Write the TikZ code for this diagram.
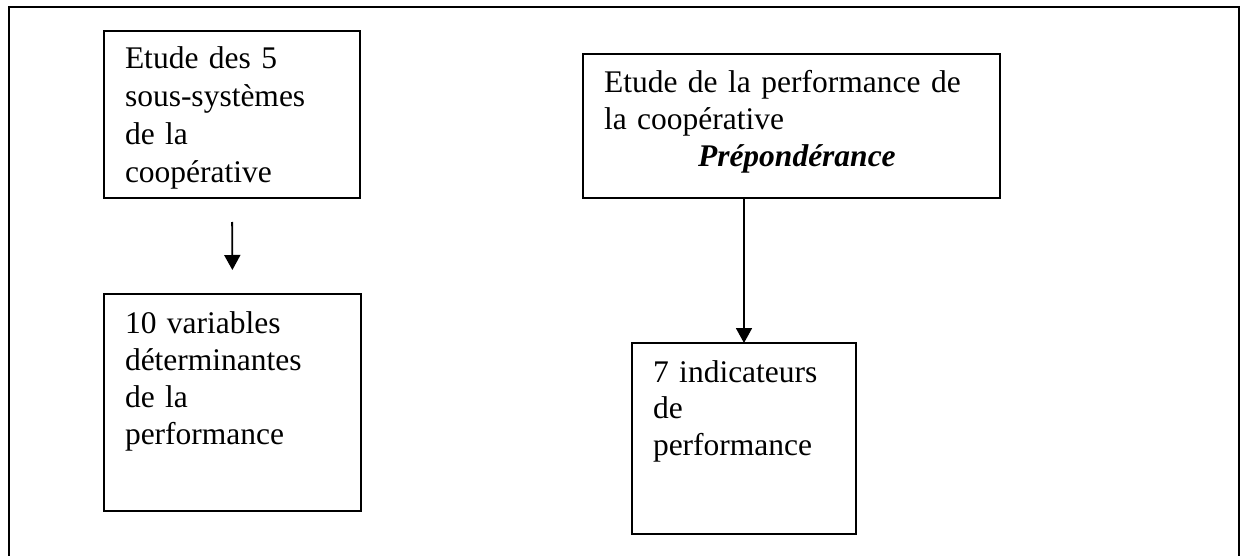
\documentclass[tikz,border=0pt]{standalone}
\usepackage{fontspec}
\setmainfont{Liberation Serif}
\usetikzlibrary{arrows.meta}
\tikzset{
  box/.style={draw, line width=0.8pt, rectangle, anchor=north west, inner sep=0pt, outer sep=0pt},
  txt/.style={anchor=base west, inner sep=0pt, outer sep=0pt, text width=300pt, align=left},
  conn/.style={line width=0.9pt, -{Triangle[length=7.5pt,width=8pt]}},
  frame/.style={line width=1.1pt}
}
\begin{document}
\begin{tikzpicture}[x=0.5pt,y=-0.5pt]
\useasboundingbox (0,0) rectangle (1242,556);
\draw[frame] (9,570) -- (9,7) -- (1239,7) -- (1239,570);
% boxes
\node[box, minimum width=128pt, minimum height=83.5pt] (b1) at (104,31) {};
\node[box, minimum width=128.5pt, minimum height=108.5pt] (b2) at (104,294) {};
\node[box, minimum width=208.5pt, minimum height=72pt] (b3) at (583,54) {};
\node[box, minimum width=112pt, minimum height=95.5pt] (b4) at (632,343) {};
% texts
\node[txt, font=\fontsize{15.75pt}{18.85pt}\selectfont] (t1) at (125,69)
  {Etude des 5\\sous-systèmes\\de la\\coopérative};
\node[txt, font=\fontsize{15.75pt}{18.65pt}\selectfont] (t2) at (125,333)
  {10 variables\\déterminantes\\de la\\performance};
\node[txt, font=\fontsize{15.75pt}{18.5pt}\selectfont] (t3) at (604,93)
  {Etude de la performance de\\la coopérative\\\hspace*{47pt}\textbf{\textit{Prépondérance}}};
\node[txt, font=\fontsize{15.75pt}{18.25pt}\selectfont] (t4) at (653,382)
  {7 indicateurs\\de\\performance};
% connectors
\draw[conn, shorten <=12pt, shorten >=12pt] (b1.south) -- (b2.north);
\draw[conn] (b4.north |- b3.south) -- (b4.north);
\end{tikzpicture}
\end{document}
